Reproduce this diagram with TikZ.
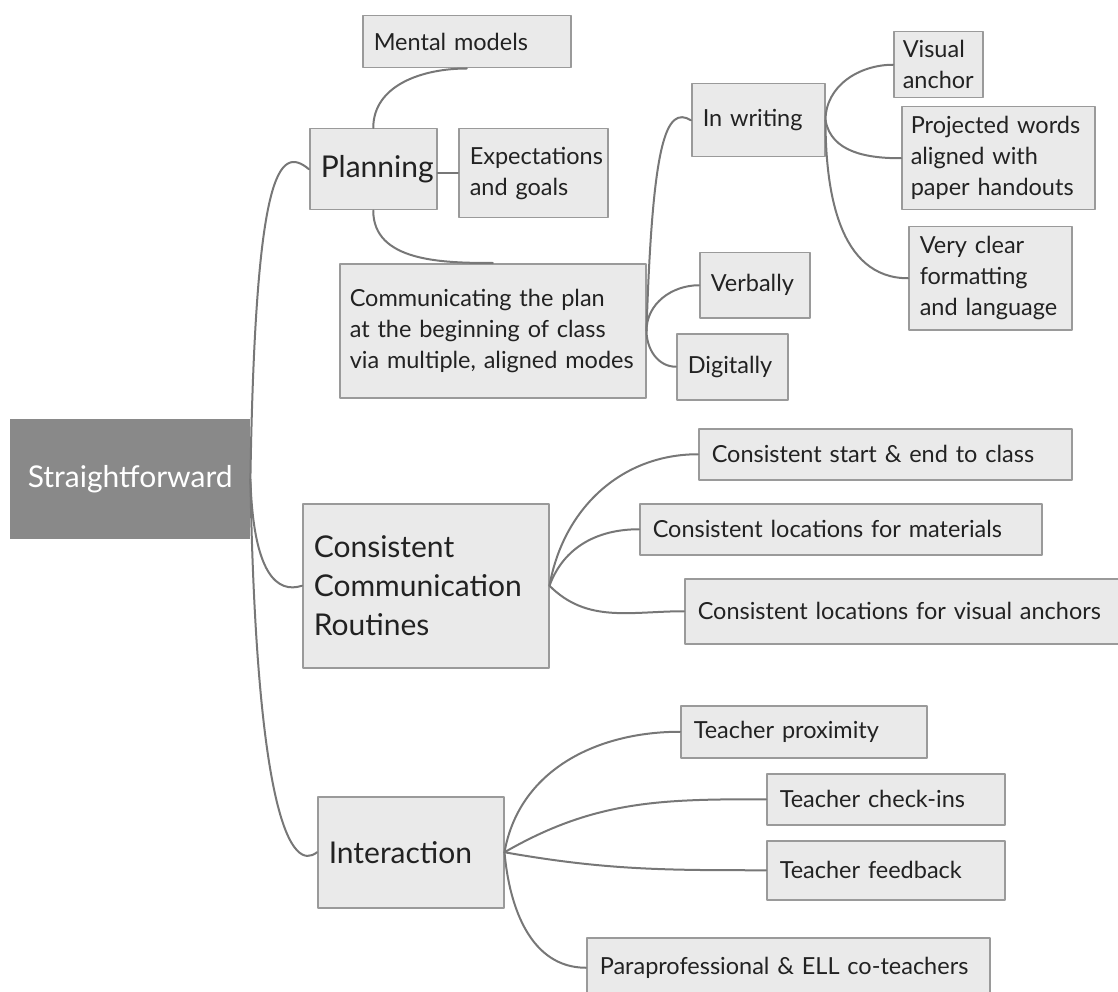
\documentclass[tikz,border=0pt]{standalone}
\usepackage{fontspec}
\setmainfont{Lato}
\hyphenpenalty=10000
\exhyphenpenalty=10000
\definecolor{boxfill}{HTML}{EAEAEA}
\definecolor{boxline}{HTML}{9A9A9A}
\definecolor{linkgray}{HTML}{777777}
\definecolor{rootfill}{HTML}{898989}
\definecolor{txt}{HTML}{222222}
\tikzset{
  topic/.style={draw=boxline, fill=boxfill, line width=1.5pt, anchor=north west,
    inner xsep=11pt, inner ysep=0pt, align=left, text=txt,
    font=\fontsize{23.5}{31}\selectfont},
  bigtopic/.style={topic, font=\fontsize{30}{39}\selectfont},
  link/.style={draw=linkgray, line width=2pt},
}
\begin{document}
\begin{tikzpicture}[x=1pt,y=1pt,line cap=round,line join=round]
\useasboundingbox (0,0) rectangle (1118,-992);
% central topic
\node[fill=rootfill, text=white, anchor=north west, minimum width=240pt,
  minimum height=120pt, font=\fontsize{30}{36}\selectfont] (root) at (10,-419) {Straightforward};
% main branches
\node[bigtopic, text width=105pt, minimum height=81pt] (planning) at (309,-128) {Planning};
\node[bigtopic, text width=224pt, minimum height=164pt] (ccr) at (302,-503) {Consistent\\Communication\\Routines};
\node[bigtopic, text width=164pt, minimum height=111pt] (interaction) at (317,-796) {Interaction};
% planning
\node[topic, text width=186pt, minimum height=52pt] (mental) at (362,-15) {Mental models};
\node[topic, text width=127pt, minimum height=89pt] (expect) at (458,-128) {Expectations\\and goals};
\node[topic, inner xsep=10pt, text width=286pt, minimum height=134pt] (comm) at (339,-263) {Communicating~the~plan\\at~the~beginning~of~class\\via~multiple,~aligned~modes};
\node[topic, text width=111pt, minimum height=73pt] (writing) at (691,-83) {In writing};
\node[topic, text width=88pt, minimum height=65pt] (verbally) at (699,-252) {Verbally};
\node[topic, text width=89pt, minimum height=66pt] (digitally) at (676,-333) {Digitally};
\node[topic, inner xsep=9pt, text width=71pt, minimum height=66pt] (visual) at (893,-31) {Visual\\anchor};
\node[topic, inner xsep=9pt, text width=175pt, minimum height=103pt] (projected) at (901,-106) {Projected~words\\aligned~with\\paper~handouts};
\node[topic, text width=141pt, minimum height=103pt] (veryclear) at (908,-226) {Very~clear\\formatting\\and~language};
% routines
\node[topic, inner xsep=13pt, text width=347pt, minimum height=51pt] (startend) at (698,-428) {Consistent start \& end to class};
\node[topic, inner xsep=13pt, text width=376pt, minimum height=51pt] (materials) at (639,-503) {Consistent locations for materials};
\node[topic, inner xsep=13pt, text width=414pt, minimum height=65pt] (visanchors) at (684,-578) {Consistent~locations~for~visual~anchors};
% interaction
\node[topic, inner xsep=13pt, text width=220pt, minimum height=52pt] (proximity) at (680,-705) {Teacher proximity};
\node[topic, inner xsep=13pt, text width=212pt, minimum height=51pt] (checkins) at (766,-773) {Teacher check-ins};
\node[topic, inner xsep=13pt, text width=212pt, minimum height=59pt] (feedback) at (766,-840) {Teacher feedback};
\node[topic, inner xsep=13pt, text width=377pt, minimum height=60pt] (para) at (586,-937) {Paraprofessional \& ELL co-teachers};
% connectors
\draw[link] (root.east) .. controls +(5,310) and +(-30,25) .. (planning.west);
\draw[link] (root.east) .. controls +(3,-95) and +(-25,-8) .. (ccr.west);
\draw[link] (root.east) .. controls +(6,-340) and +(-25,-20) .. (interaction.west);
\draw[link] (planning.north) to[out=90,in=180] (mental.south);
\draw[link] (expect.west -| planning.east) -- (expect.west);
\draw[link] (planning.south) to[out=-90,in=180] (comm.north);
\draw[link] (comm.east) .. controls +(6,190) and +(-25,15) .. (writing.west);
\draw[link] (comm.east) to[out=90,in=180] (verbally.west);
\draw[link] (comm.east) to[out=-90,in=180] (digitally.west);
\draw[link] (writing.east) to[out=90,in=180] (visual.west);
\draw[link] (writing.east) to[out=-80,in=180] (projected.west);
\draw[link] (writing.east) to[out=-90,in=180] (veryclear.west);
\draw[link] (ccr.east) to[out=80,in=180] (startend.west);
\draw[link] (ccr.east) to[out=70,in=180] (materials.west);
\draw[link] (ccr.east) to[out=-45,in=180] (visanchors.west);
\draw[link] (interaction.east) to[out=80,in=180] (proximity.west);
\draw[link] (interaction.east) to[out=30,in=180] (checkins.west);
\draw[link] (interaction.east) to[out=-10,in=180] (feedback.west);
\draw[link] (interaction.east) to[out=-85,in=180] (para.west);
\end{tikzpicture}
\end{document}
